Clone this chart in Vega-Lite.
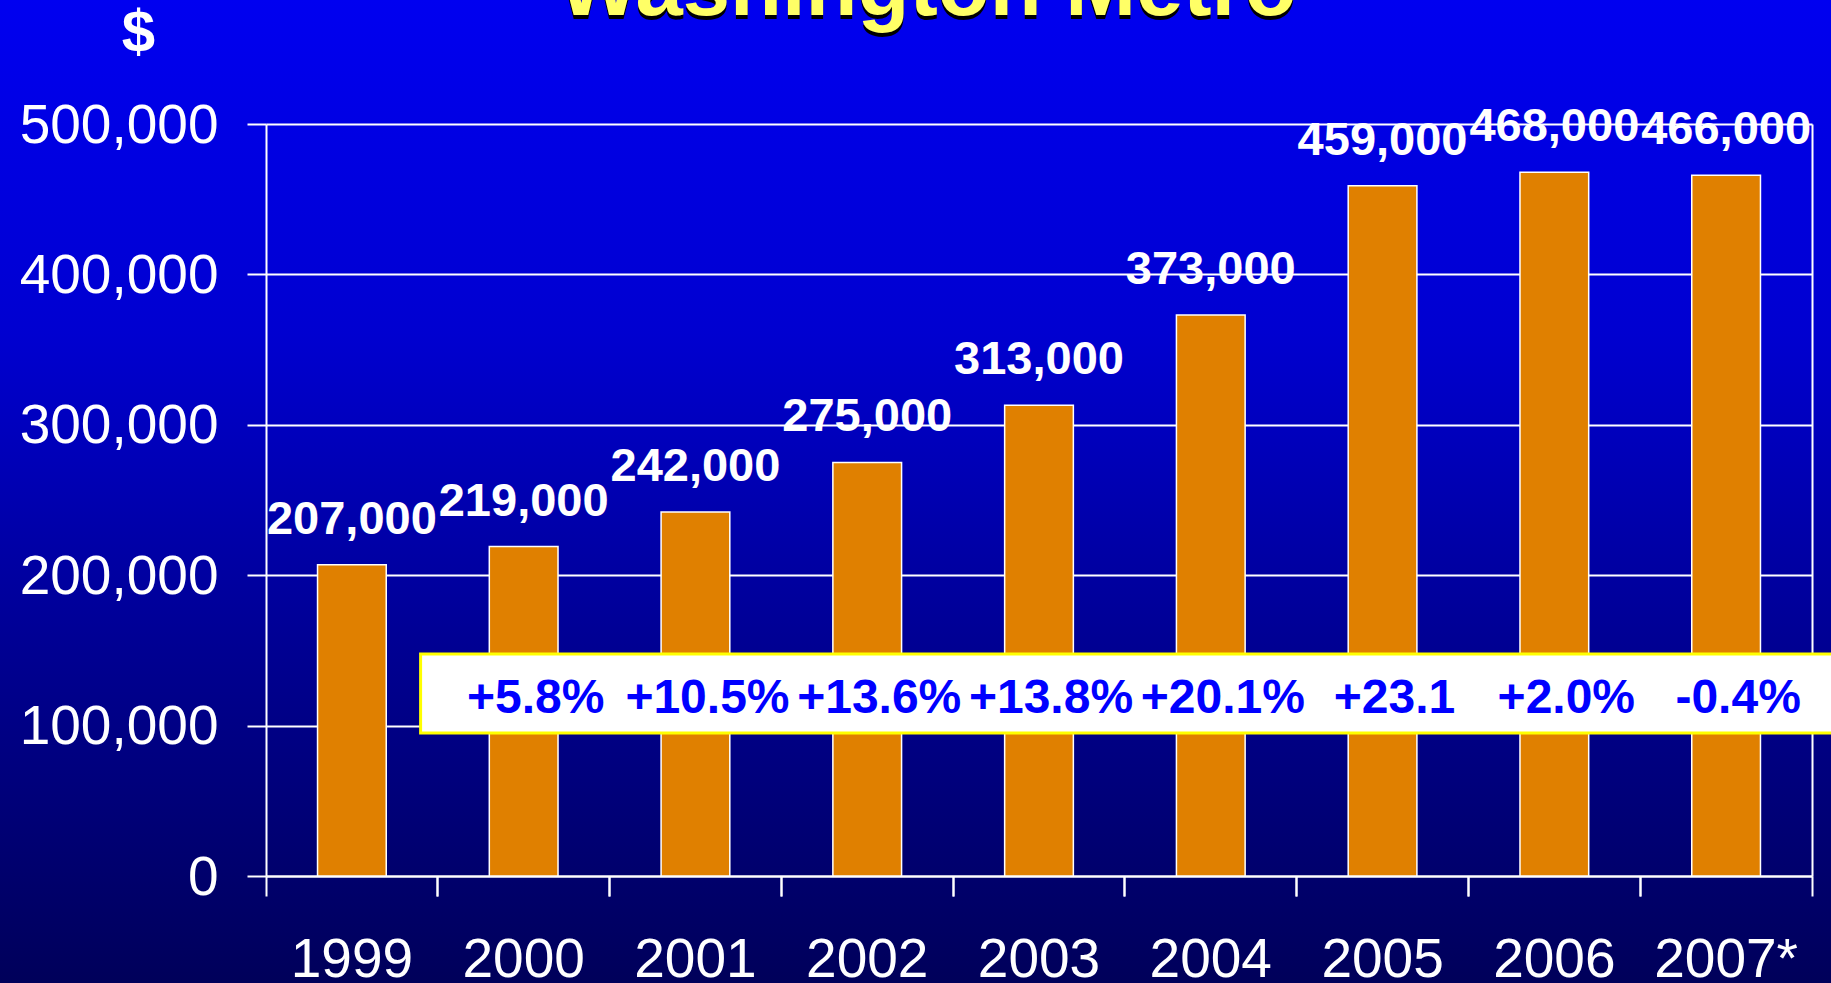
{
  "$schema": "https://vega.github.io/schema/vega-lite/v6.json",
  "width": 1831,
  "height": 983,
  "autosize": {"type": "none"},
  "padding": 0,
  "background": "#00008A",
  "config": {
    "font": "Liberation Sans",
    "view": {
      "stroke": null,
      "fill": {
        "gradient": "linear", "x1": 0, "y1": 0, "x2": 0, "y2": 1,
        "stops": [
          {"offset": 0, "color": "#0000F0"},
          {"offset": 0.34, "color": "#0000D0"},
          {"offset": 0.66, "color": "#000092"},
          {"offset": 1, "color": "#00005A"}
        ]
      }
    }
  },
  "title": {
    "text": "Washington Metro",
    "subtitle": "Washington Metro\u200a",
    "anchor": "middle",
    "frame": "group",
    "orient": "top",
    "offset": 0,
    "dx": 12,
    "dy": 41,
    "font": "Liberation Sans",
    "fontSize": 85,
    "fontWeight": "bold",
    "color": "#000000",
    "subtitleFont": "Liberation Sans",
    "subtitleFontSize": 85,
    "subtitleFontWeight": "bold",
    "subtitleColor": "#FFFF66",
    "subtitlePadding": -89
  },
  "data": {
    "values": [
      {"year": "1999", "value": 207000, "change": ""},
      {"year": "2000", "value": 219000, "change": "+5.8%"},
      {"year": "2001", "value": 242000, "change": "+10.5%"},
      {"year": "2002", "value": 275000, "change": "+13.6%"},
      {"year": "2003", "value": 313000, "change": "+13.8%"},
      {"year": "2004", "value": 373000, "change": "+20.1%"},
      {"year": "2005", "value": 459000, "change": "+23.1"},
      {"year": "2006", "value": 468000, "change": "+2.0%"},
      {"year": "2007*", "value": 466000, "change": "-0.4%"}
    ]
  },
  "layer": [
    {
      "mark": {"type": "bar", "fill": "#E08000", "stroke": "#FFFFFF", "strokeWidth": 1.5},
      "encoding": {
        "x": {
          "field": "year", "type": "nominal", "sort": null,
          "scale": {"range": [266, 1812], "paddingInner": 0.6, "paddingOuter": 0.3},
          "axis": {
            "orient": "bottom", "offset": -107, "title": null,
            "labelAngle": 0, "labelFont": "Liberation Sans", "labelFontSize": 55, "labelColor": "#FFFFFF",
            "labelBaseline": "alphabetic", "labelPadding": 80, "labelFlush": false, "labelOverlap": false, "labelLimit": 0,
            "bandPosition": 1.75, "tickExtra": false, "tickSize": 20, "tickColor": "#FFFFFF", "tickWidth": 2,
            "domainColor": "#FFFFFF", "domainWidth": 2, "grid": false
          }
        },
        "y": {
          "field": "value", "type": "quantitative",
          "scale": {"domain": [0, 500000], "range": [876, 124], "nice": false, "zero": true},
          "axis": {
            "orient": "left", "offset": -266,
            "title": "$", "titleAngle": 0, "titleFont": "Liberation Sans", "titleFontSize": 60, "titleFontWeight": "bold",
            "titleColor": "#FFFFFF", "titleX": -128, "titleY": 33, "titleAlign": "center", "titleBaseline": "middle",
            "values": [0, 100000, 200000, 300000, 400000, 500000], "format": ",d",
            "labelFont": "Liberation Sans", "labelFontSize": 55, "labelColor": "#FFFFFF", "labelLimit": 0,
            "labelBaseline": "alphabetic", "labelOffset": 18, "labelPadding": 29, "labelFlush": false, "labelOverlap": false,
            "tickSize": 19, "tickColor": "#FFFFFF", "tickWidth": 2,
            "grid": true, "gridColor": "#FFFFFF", "gridWidth": 2,
            "domainColor": "#FFFFFF", "domainWidth": 2
          }
        }
      }
    },
    {
      "mark": {"type": "text", "align": "center", "baseline": "alphabetic", "dy": -31, "font": "Liberation Sans", "fontSize": 47, "fontWeight": "bold", "fill": "#FFFFFF"},
      "encoding": {
        "x": {
          "field": "year", "type": "nominal", "sort": null,
          "axis": {
            "orient": "bottom", "offset": -107, "title": null, "labels": false, "domain": false, "grid": false,
            "bandPosition": -0.75, "tickExtra": false, "tickSize": 20, "tickColor": "#FFFFFF", "tickWidth": 2
          }
        },
        "y": {
          "field": "value", "type": "quantitative",
          "axis": {"orient": "right", "offset": -19, "title": null, "labels": false, "ticks": false, "grid": false, "domain": true, "domainColor": "#FFFFFF", "domainWidth": 2}
        },
        "text": {"field": "value", "type": "quantitative", "format": ",d"}
      }
    },
    {
      "data": {"values": [{}]},
      "mark": {"type": "rect", "fill": "#FFFFFF", "stroke": "#FFFF00", "strokeWidth": 3},
      "encoding": {
        "x": {"datum": "1999", "type": "nominal", "bandPosition": 1.5, "axis": null},
        "x2": {"datum": "2007*", "bandPosition": 2.6},
        "y": {"datum": 147600, "type": "quantitative", "axis": null},
        "y2": {"datum": 95100}
      }
    },
    {
      "transform": [{"filter": "datum.change != ''"}],
      "mark": {"type": "text", "align": "center", "baseline": "alphabetic", "dx": 12, "font": "Liberation Sans", "fontSize": 48, "fontWeight": "bold", "fill": "#0000FF"},
      "encoding": {
        "x": {"field": "year", "type": "nominal", "sort": null, "axis": null},
        "y": {"datum": 108400, "type": "quantitative", "axis": null},
        "text": {"field": "change", "type": "nominal"}
      }
    }
  ],
  "resolve": {"axis": {"x": "independent", "y": "independent"}}
}
